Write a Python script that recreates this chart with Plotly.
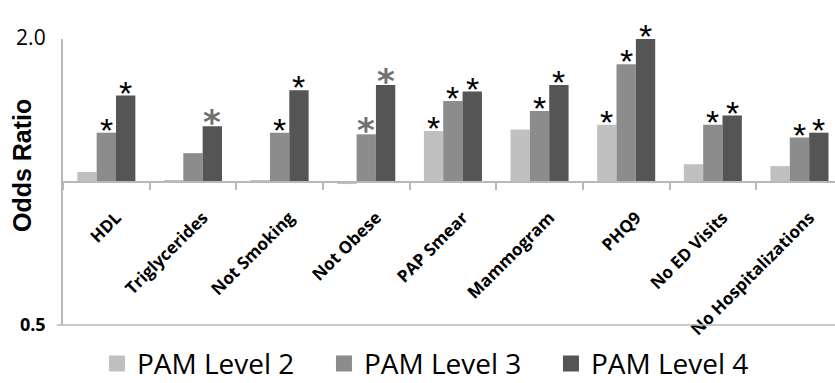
import math
import plotly.graph_objects as go

categories = ["HDL", "Triglycerides", "Not Smoking", "Not Obese", "PAP Smear",
              "Mammogram", "PHQ9", "No ED Visits", "No Hospitalizations"]
series_names = ["PAM Level 2", "PAM Level 3", "PAM Level 4"]
level2 = [1.05, 1.01, 1.005, 0.99, 1.28, 1.29, 1.32, 1.09, 1.08]
level3 = [1.27, 1.15, 1.27, 1.26, 1.48, 1.41, 1.77, 1.32, 1.24]
level4 = [1.52, 1.31, 1.56, 1.60, 1.55, 1.60, 2.00, 1.38, 1.27]
# significance markers: "" none, "b" black asterisk, "g" gray bold asterisk
sig2 = ["", "", "", "", "b", "", "b", "", ""]
sig3 = ["b", "", "b", "g", "b", "b", "b", "b", "b"]
sig4 = ["b", "g", "b", "g", "b", "b", "b", "b", "b"]
y_tickvals = [0.5, 2.0]
y_ticktext = ["<b>0.5</b>", "<span style='font-size:21px'>2.0</span>"]

colors = ["#c0c0c0", "#8c8c8c", "#555555"]
series = [level2, level3, level4]
sigs = [sig2, sig3, sig4]
bargap = 0.33

fig = go.Figure()
for name, vals, col in zip(series_names, series, colors):
    fig.add_trace(go.Bar(
        x=categories, y=[v - 1 for v in vals], base=1, name=name,
        marker=dict(color=col, line=dict(width=0)), showlegend=False,
    ))
    # legend entry
    fig.add_trace(go.Scatter(
        x=[None], y=[None], mode="markers", name=name,
        marker=dict(symbol="square", size=18, color=col),
    ))

w = (1 - bargap) / 3
annotations = []
for i, (vals, sg) in enumerate(zip(series, sigs)):
    for j, (v, s) in enumerate(zip(vals, sg)):
        if not s:
            continue
        if s == "b":
            txt, col, fam = "*", "#000000", "Liberation Sans"
        else:
            txt, col, fam = "<b>*</b>", "#707070", "DejaVu Sans"
        annotations.append(dict(
            x=j + (i - 1) * w, y=math.log10(v), xref="x", yref="y",
            text=txt, showarrow=False, yanchor="bottom",
            font=dict(size=34, color=col, family=fam), yshift=-18,
        ))

annotations.append(dict(
    x=-0.053, y=0.556, xref="paper", yref="paper", text="<b>Odds Ratio</b>",
    textangle=-90, showarrow=False, xanchor="center", yanchor="middle",
    font=dict(size=25, family="Liberation Sans Narrow, Liberation Sans", color="#000"),
))

fig.update_layout(
    width=835, height=383,
    margin=dict(l=63, r=0, t=39, b=58),
    plot_bgcolor="white", paper_bgcolor="white",
    barmode="group", bargap=bargap, bargroupgap=0,
    font=dict(family="Open Sans", color="#000"),
    xaxis=dict(
        type="category", range=[-0.5, 8.41],
        anchor="free", position=0.5,
        showline=True, linecolor="#b8b8b8", linewidth=2,
        ticks="outside", tickson="boundaries", ticklen=7, tickcolor="#b8b8b8", tickwidth=1.5,
        tickangle=-45, tickfont=dict(size=17, family="Open Sans", weight="bold"),
        ticklabelstandoff=18, ticklabelshift=10, showgrid=False, automargin=False,
    ),
    yaxis=dict(
        type="log", range=[math.log10(0.5), math.log10(2.0)],
        tickvals=y_tickvals, ticktext=y_ticktext,
        tickfont=dict(size=18, family="Open Sans"),
        showline=True, linecolor="#b8b8b8", linewidth=1.5,
        showgrid=False, zeroline=False, ticks="", ticklabelstandoff=12,
        automargin=False,
    ),
    legend=dict(
        orientation="h", x=0.044, xanchor="left",
        yref="container", y=0.05, yanchor="middle",
        font=dict(size=28, family="Open Sans"), itemsizing="trace",
        entrywidth=182, entrywidthmode="pixels",
    ),
    annotations=annotations,
    shapes=[dict(type="line", xref="paper", yref="paper", x0=-0.008, x1=1, y0=0, y1=0,
                 line=dict(color="#b8b8b8", width=1.5))],
)

fig.write_html("out.html", config={"displayModeBar": False},
               post_script="document.body.style.margin='0';document.body.style.overflow='hidden';")
